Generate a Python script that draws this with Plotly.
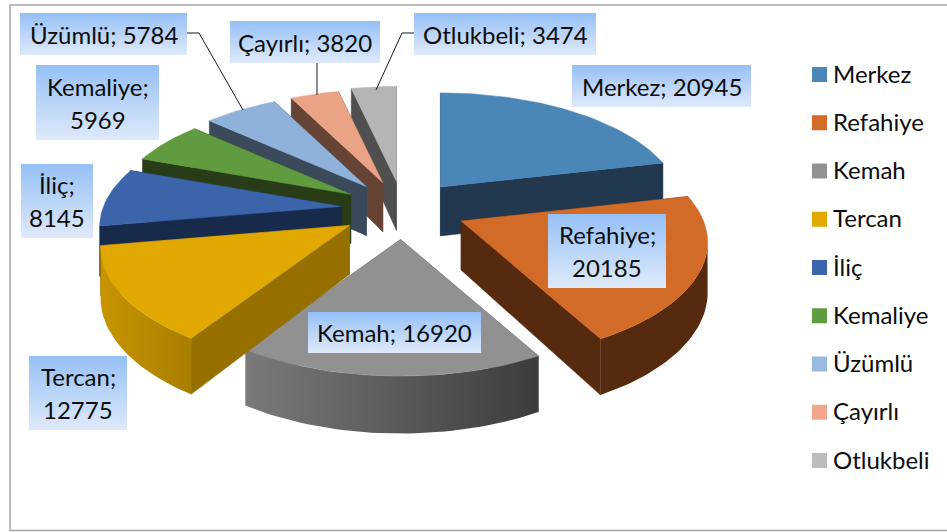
"""Erzincan ilçeleri 3B patlatılmış pasta grafiği"""

from math import cos, pi, sin

import plotly.graph_objects as go

NAMES = ["Merkez", "Refahiye", "Kemah", "Tercan", "İliç", "Kemaliye", "Üzümlü", "Çayırlı", "Otlukbeli"]
VALUES = [20945, 20185, 16920, 12775, 8145, 5969, 5784, 3820, 3474]

TOP_COLORS = ["#4a86b8", "#d26b28", "#919191", "#e0a800", "#3c64aa", "#619b40", "#8fb2db", "#eba386", "#b5b5b5"]
LEGEND_COLORS = ["#4a86b8", "#d26b28", "#919191", "#e0a800", "#3c64aa", "#619b40", "#98b9e0", "#f0a58c", "#bcbcbc"]
# yan yüzey renkleri: kesik yüzey, yay solu, yay sağı
CUT_COLORS = ["#21384f", "#552a0e", "#555555", "#957000", "#172a4c", "#283d17", "#3b4a5a", "#654335", "#4f4f4f"]
ARC_LEFT = ["#21384f", "#552a0e", "#7a7a7a", "#c89500", "#172a4c", "#283d17", "#3b4a5a", "#654335", "#4f4f4f"]
ARC_RIGHT = ["#21384f", "#552a0e", "#3c3c3c", "#a87e00", "#172a4c", "#283d17", "#3b4a5a", "#654335", "#4f4f4f"]
RADIUS = [0.99, 1.01, 1.0, 1.02, 0.99, 0.98, 0.985, 0.98, 1.0]
DRAW_ORDER = [8, 7, 6, 5, 4, 0, 2, 3, 1]

# projeksiyon ayarları (piksel)
CENTER_X, CENTER_Y = 403, 209
SCALE_X, SCALE_Y = 240, 112
PERSPECTIVE = 0.18
WALL = 49
PULL = 0.26


def offset(gx, gy):
    s = 1 / (1 + PERSPECTIVE * gy)
    return SCALE_X * gx * s, -SCALE_Y * gy * s, s


def polar(theta, r=1.0):
    return r * sin(theta), r * cos(theta)


fig = go.Figure()


def add_poly(points, color=None, gradient=None):
    xs = [p[0] for p in points] + [points[0][0]]
    ys = [p[1] for p in points] + [points[0][1]]
    trace = dict(x=xs, y=ys, mode="lines", fill="toself", hoverinfo="skip", showlegend=False)
    if gradient:
        trace["fillgradient"] = gradient
        trace["line"] = dict(width=0)
    else:
        trace["fillcolor"] = color
        trace["line"] = dict(color=color, width=0.5)
    fig.add_trace(go.Scatter(**trace))


# dilim açıları değerlerden hesaplanır
total = sum(VALUES)
starts, ends = [], []
running = 0
for v in VALUES:
    starts.append(running / total * 2 * pi)
    running += v
    ends.append(running / total * 2 * pi)

for i in DRAW_ORDER:
    a0, a1 = starts[i], ends[i]
    dx, dy, _ = offset(*polar((a0 + a1) / 2, PULL))
    apex_x, apex_y = CENTER_X + dx, CENTER_Y + dy
    steps = max(int((a1 - a0) * 40), 3)
    arc = [a0 + (a1 - a0) * k / steps for k in range(steps + 1)]

    def pt(gx, gy, drop=0.0):
        ox, oy, s = offset(gx, gy)
        return apex_x + ox, apex_y + oy + WALL * drop * s ** 0.8

    for edge in (a0, a1):
        ex, ey = polar(edge, RADIUS[i])
        add_poly([pt(0, 0), pt(ex, ey), pt(ex, ey, 1), pt(0, 0, 1)], CUT_COLORS[i])

    front = [t for t in arc if cos(t) < -0.2]
    if len(front) > 1:
        upper = [pt(*polar(t, RADIUS[i])) for t in front]
        lower = [pt(*polar(t, RADIUS[i]), 1) for t in reversed(front)]
        add_poly(upper + lower, gradient=dict(
            type="horizontal",
            colorscale=[[0, ARC_LEFT[i]], [1, ARC_RIGHT[i]]],
        ))

    add_poly([pt(0, 0)] + [pt(*polar(t, RADIUS[i])) for t in arc], TOP_COLORS[i])

# etiket kutuları: x0, x1, y0, y1
LABEL_BOXES = [
    (572, 751, 65, 107), (548, 666, 214, 288), (308, 481, 312, 353),
    (29, 127, 356, 430), (21, 93, 164, 238), (36, 159, 65, 140),
    (20, 187, 13, 55), (230, 380, 21, 63), (414, 596, 13, 55),
]
WRAPPED = {"Refahiye", "Tercan", "İliç", "Kemaliye"}
annotations = []
for name, value, (x0, x1, y0, y1) in zip(NAMES, VALUES, LABEL_BOXES):
    add_poly([(x0, y0), (x1, y0), (x1, y1), (x0, y1)], gradient=dict(
        type="vertical",
        start=y0,
        stop=y1,
        colorscale=[[0, "#95c0f5"], [1, "#dfeafb"]],
    ))
    lines = [f"{name};", str(value)] if name in WRAPPED else [f"{name}; {value}"]
    mid = (y0 + y1) / 2
    for n, line in enumerate(lines):
        annotations.append(dict(
            x=(x0 + x1) / 2, y=mid + (n - (len(lines) - 1) / 2) * 33,
            xref="x", yref="y", text=line, showarrow=False,
            font=dict(size=24, color="#0d0d0d", family="Lato"),
        ))

# gösterge
for n, (name, color) in enumerate(zip(NAMES, LEGEND_COLORS)):
    y = 74.5 + n * 48.25
    fig.add_trace(go.Scatter(
        x=[819.5], y=[y], mode="markers", hoverinfo="skip", showlegend=False,
        marker=dict(symbol="square", size=15, color=color),
    ))
    annotations.append(dict(
        x=831, y=y - 1.5, xref="x", yref="y", xanchor="left", text=name, showarrow=False,
        font=dict(size=24, color="#0d0d0d", family="Lato"),
    ))

leaders = [
    [(187, 33), (199, 33), (243, 110)],
    [(317, 63), (317, 95)],
    [(414, 33), (402, 33), (376, 90)],
]
for leader in leaders:
    fig.add_trace(go.Scatter(
        x=[p[0] for p in leader], y=[p[1] for p in leader], mode="lines",
        line=dict(color="#1a1a1a", width=1), hoverinfo="skip", showlegend=False,
    ))

fig.update_layout(
    width=947,
    height=532,
    margin=dict(l=0, r=0, t=0, b=0),
    paper_bgcolor="white",
    plot_bgcolor="white",
    showlegend=False,
    annotations=annotations,
    shapes=[dict(
        type="rect", xref="x", yref="y", x0=10, x1=960, y0=5, y1=530.5,
        line=dict(color="#a6a6a6", width=1.5), layer="below",
    )],
)
fig.update_xaxes(range=[0, 947], visible=False, fixedrange=True)
fig.update_yaxes(range=[532, 0], visible=False, fixedrange=True)

# sayfa kenar boşluğunu kaldır
fig.write_html(
    "out.html",
    config=dict(displayModeBar=False),
    post_script="document.body.style.margin='0';document.body.style.overflow='hidden';",
)
